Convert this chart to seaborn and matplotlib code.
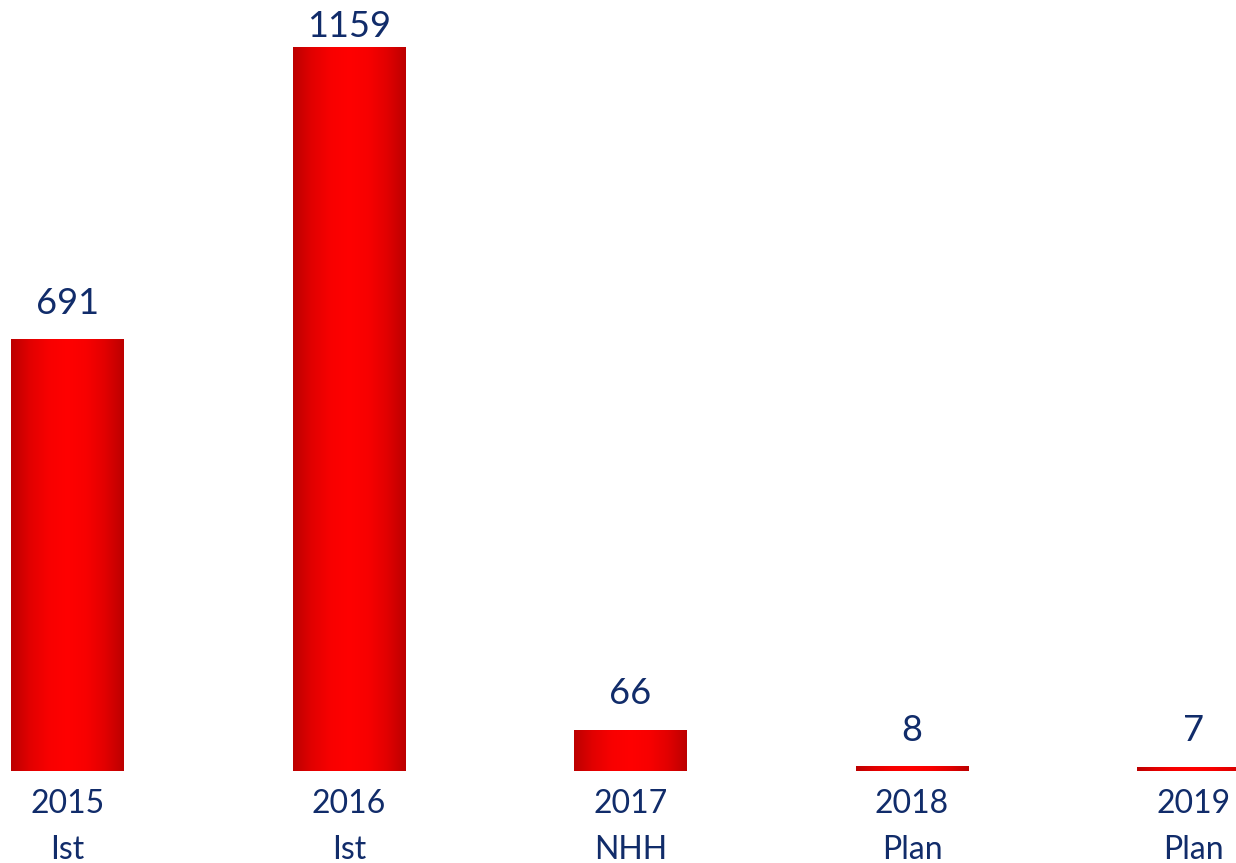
import numpy as np
import pandas as pd
import seaborn as sns
import matplotlib.pyplot as plt
from matplotlib.colors import LinearSegmentedColormap

years = ['2015', '2016', '2017', '2018', '2019']
kinds = ['Ist', 'Ist', 'NHH', 'Plan', 'Plan']
values = [691, 1159, 66, 8, 7]

navy = '#112C6A'
df = pd.DataFrame({'label': [y + '\n' + k for y, k in zip(years, kinds)], 'value': values})

sns.set_style('white')
plt.rcParams['font.family'] = ['Lato', 'DejaVu Sans']

fig = plt.figure(figsize=(12.36, 8.63), dpi=100)
ax = fig.add_axes([0, 92 / 863, 1, 771 / 863])
sns.barplot(data=df, x='label', y='value', width=0.4, color='red', ax=ax)

# horizontal gradient: dark red at edges, bright red in the middle
cmap = LinearSegmentedColormap.from_list(
    'redgrad', ['#BC0000', '#E20000', '#F80000', '#FF0000', '#F80000', '#E20000', '#BC0000'])
grad = np.linspace(0, 1, 256).reshape(1, -1)
for p in ax.patches:
    x0, y0 = p.get_x(), p.get_y()
    w, h = p.get_width(), p.get_height()
    im = ax.imshow(grad, cmap=cmap, aspect='auto', extent=[x0, x0 + w, y0, y0 + h], zorder=2)
    im.set_clip_path(p)
    p.set_facecolor('none')
    p.set_edgecolor('none')

anns = ax.bar_label(ax.containers[0], labels=[str(v) for v in values], padding=14,
                    fontsize=26, color=navy)
# tallest label sits closer to its bar so it stays inside the picture
anns[int(np.argmax(values))].xyann = (0, 3)

ax.set_xlim(-0.24, 4.151)
ax.set_ylim(0, 1234)
ax.set_xlabel('')
ax.set_ylabel('')
ax.set_yticks([])
ax.tick_params(axis='x', length=0, pad=13, labelsize=23, labelcolor=navy)
for t in ax.get_xticklabels():
    t.set_linespacing(1.65)
sns.despine(ax=ax, left=True, bottom=True)

fig.savefig('out.png', dpi=100)
